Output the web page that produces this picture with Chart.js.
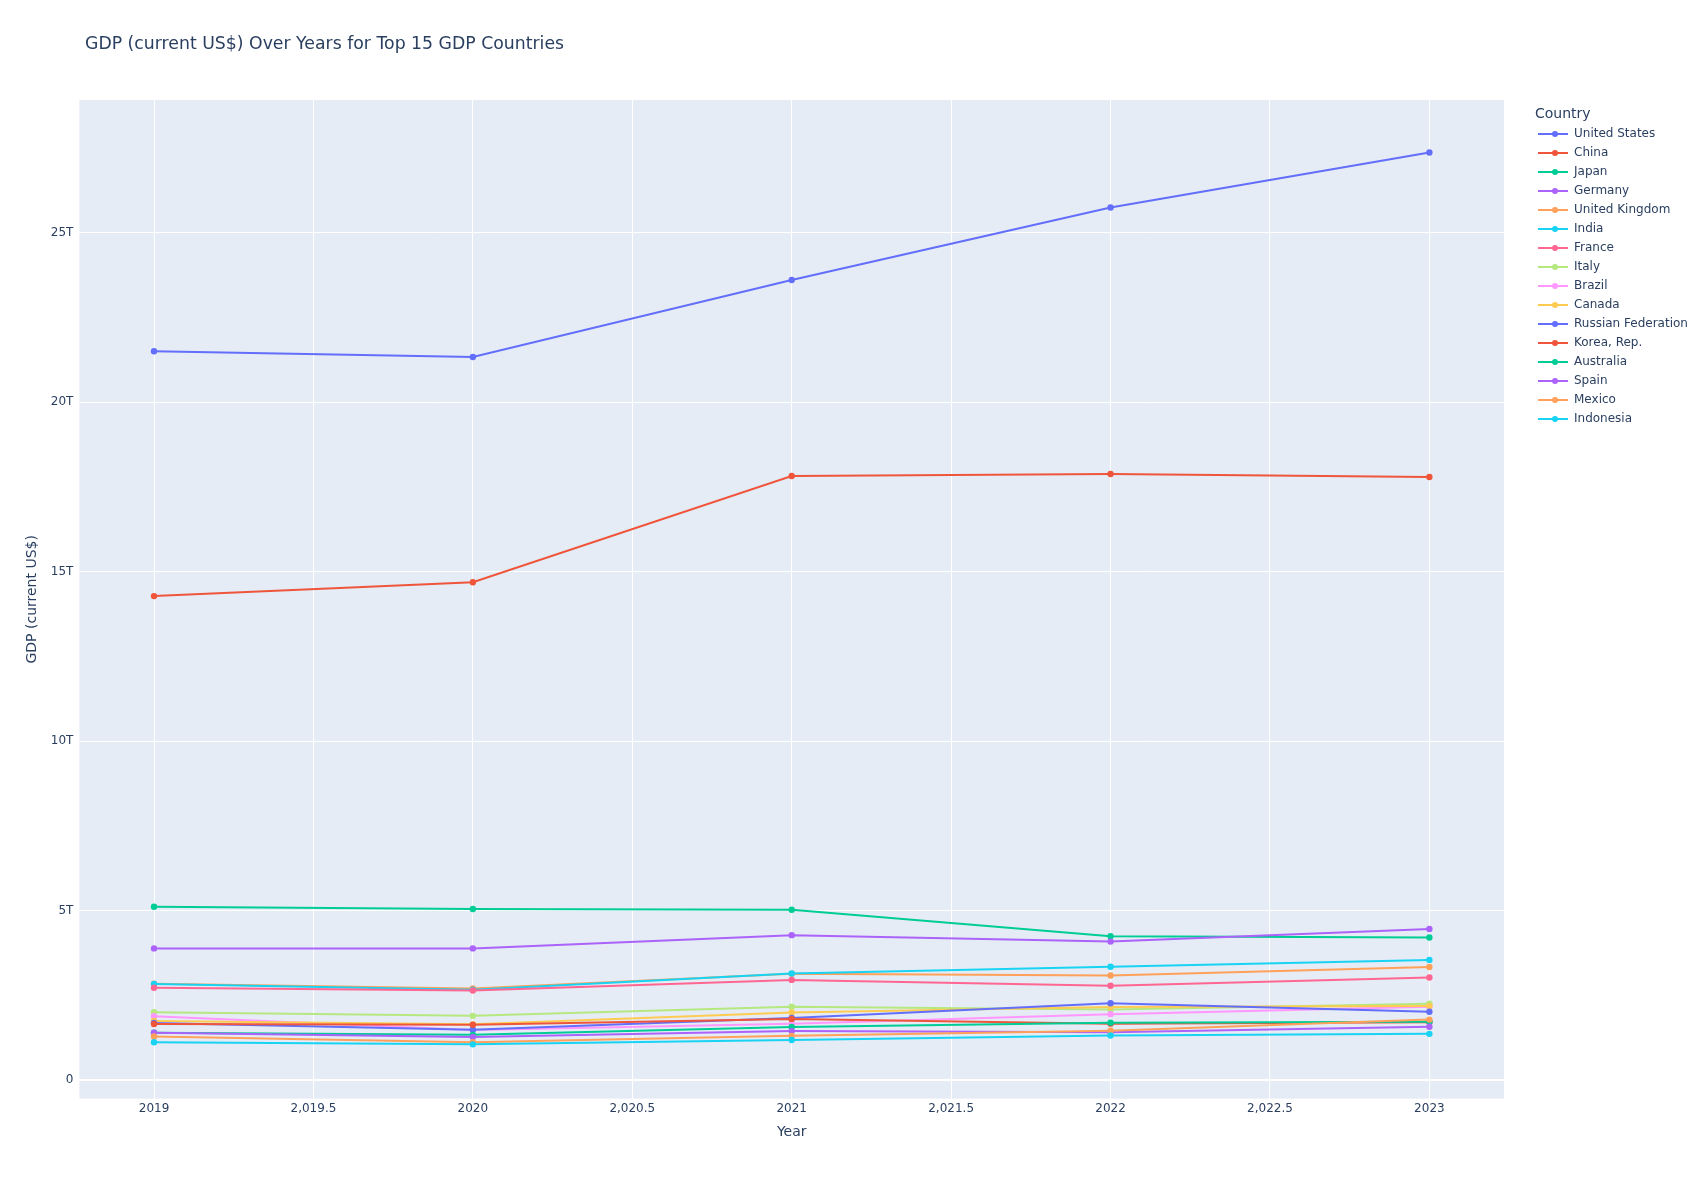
<!DOCTYPE html>
<html>
<head>
<meta charset="utf-8">
<script src="https://cdn.jsdelivr.net/npm/chart.js@4.4.1/dist/chart.umd.min.js"></script>
<style>
  html, body { margin: 0; padding: 0; background: #fff; }
  #wrap { position: relative; width: 1704px; height: 1178px; font-family: "DejaVu Sans", Verdana, sans-serif; color: #2a3f5f; }
  #chart { position: absolute; left: 0; top: 0; }
  #title { position: absolute; left: 85px; top: 33px; font-size: 17.3px; white-space: nowrap; }
  #legend { position: absolute; left: 1535px; top: 103px; font-size: 12px; }
  #legend .head { font-size: 14px; height: 21px; line-height: 21px; }
  #legend .item { position: relative; height: 19px; line-height: 19px; padding-left: 39px; white-space: nowrap; }
  #legend .sym { position: absolute; left: 3px; top: 8.5px; width: 30px; height: 2px; }
  #legend .dot { position: absolute; left: 14px; top: -2px; width: 6px; height: 6px; border-radius: 50%; }
</style>
</head>
<body>
<div id="wrap">
  <canvas id="chart" width="1704" height="1178"></canvas>
  <div id="title">GDP (current US$) Over Years for Top 15 GDP Countries</div>
  <div id="legend"><div class="head">Country</div></div>
</div>
<script>
// valeurs en milliers de milliards (T) de US$
const years = [2019, 2020, 2021, 2022, 2023];
const countries = ['United States', 'China', 'Japan', 'Germany', 'United Kingdom', 'India', 'France', 'Italy',
  'Brazil', 'Canada', 'Russian Federation', 'Korea, Rep.', 'Australia', 'Spain', 'Mexico', 'Indonesia'];

const unitedStates = [21.50, 21.33, 23.60, 25.74, 27.36];
const china = [14.28, 14.69, 17.82, 17.88, 17.79];
const japan = [5.12, 5.05, 5.03, 4.25, 4.21];
const germany = [3.89, 3.89, 4.28, 4.09, 4.46];
const unitedKingdom = [2.85, 2.71, 3.14, 3.09, 3.34];
const india = [2.84, 2.67, 3.15, 3.35, 3.55];
const france = [2.73, 2.65, 2.96, 2.79, 3.03];
const italy = [2.01, 1.90, 2.17, 2.09, 2.26];
const brazil = [1.89, 1.48, 1.67, 1.95, 2.17];
const canada = [1.75, 1.65, 2.00, 2.16, 2.19];
const russia = [1.69, 1.49, 1.84, 2.27, 2.02];
const korea = [1.66, 1.64, 1.81, 1.67, 1.71];
const australia = [1.40, 1.34, 1.57, 1.70, 1.73];
const spain = [1.40, 1.28, 1.45, 1.42, 1.58];
const mexico = [1.29, 1.12, 1.31, 1.46, 1.79];
const indonesia = [1.12, 1.06, 1.19, 1.32, 1.37];

const series = [unitedStates, china, japan, germany, unitedKingdom, india, france, italy,
  brazil, canada, russia, korea, australia, spain, mexico, indonesia];

const colors = ['#636EFA', '#EF553B', '#00CC96', '#AB63FA', '#FFA15A', '#19D3F3', '#FF6692', '#B6E880',
  '#FF97FF', '#FECB52', '#636EFA', '#EF553B', '#00CC96', '#AB63FA', '#FFA15A', '#19D3F3'];

const datasets = countries.map((name, i) => ({
  label: name,
  data: years.map((y, j) => ({ x: y, y: series[i][j] })),
  borderColor: colors[i],
  backgroundColor: colors[i],
  borderWidth: 2,
  pointRadius: 3.2,
  pointBorderWidth: 0,
  pointHoverRadius: 3.2,
  tension: 0,
  fill: false,
  order: countries.length - i
}));

// legende html
const legend = document.getElementById('legend');
countries.forEach((name, i) => {
  const item = document.createElement('div');
  item.className = 'item';
  item.innerHTML = '<span class="sym" style="background:' + colors[i] + '"><span class="dot" style="background:' +
    colors[i] + '"></span></span>' + name;
  legend.appendChild(item);
});

const bgPlugin = {
  id: 'plotBg',
  beforeDraw(chart) {
    const { ctx, chartArea: a } = chart;
    ctx.save();
    ctx.fillStyle = '#E5ECF6';
    ctx.fillRect(a.left, a.top, a.right - a.left, a.bottom - a.top);
    ctx.restore();
  }
};

const tickFont = { family: 'DejaVu Sans', size: 12 };
const titleFont = { family: 'DejaVu Sans', size: 14 };

new Chart(document.getElementById('chart').getContext('2d'), {
  type: 'line',
  data: { datasets },
  options: {
    responsive: false,
    animation: false,
    layout: { padding: { top: 100, right: 200, left: 0, bottom: 0 } },
    plugins: { legend: { display: false }, tooltip: { enabled: false } },
    scales: {
      x: {
        type: 'linear',
        min: 2018.766,
        max: 2023.234,
        afterFit: s => { s.height = 79.4; },
        grid: { color: '#ffffff', lineWidth: 1, drawTicks: false },
        border: { display: false },
        ticks: {
          stepSize: 0.5,
          includeBounds: false,
          padding: 3,
          color: '#2a3f5f',
          font: tickFont,
          maxRotation: 0,
          callback: v => Number.isInteger(v) ? String(v) : v.toLocaleString('en-US', { minimumFractionDigits: 1 })
        },
        title: { display: true, text: 'Year', color: '#2a3f5f', font: titleFont, padding: { top: 0, bottom: 37 } }
      },
      y: {
        min: -0.54,
        max: 28.91,
        afterFit: s => { s.width = 79.4; },
        grid: {
          color: '#ffffff',
          lineWidth: c => (c.tick && c.tick.value === 0 ? 2 : 1),
          drawTicks: false
        },
        border: { display: false },
        ticks: {
          stepSize: 5,
          includeBounds: false,
          padding: 6,
          color: '#2a3f5f',
          font: tickFont,
          callback: v => v === 0 ? '0' : v + 'T'
        },
        title: { display: true, text: 'GDP (current US$)', color: '#2a3f5f', font: titleFont, padding: { top: 24, bottom: 0 } }
      }
    }
  },
  plugins: [bgPlugin]
});
</script>
</body>
</html>
